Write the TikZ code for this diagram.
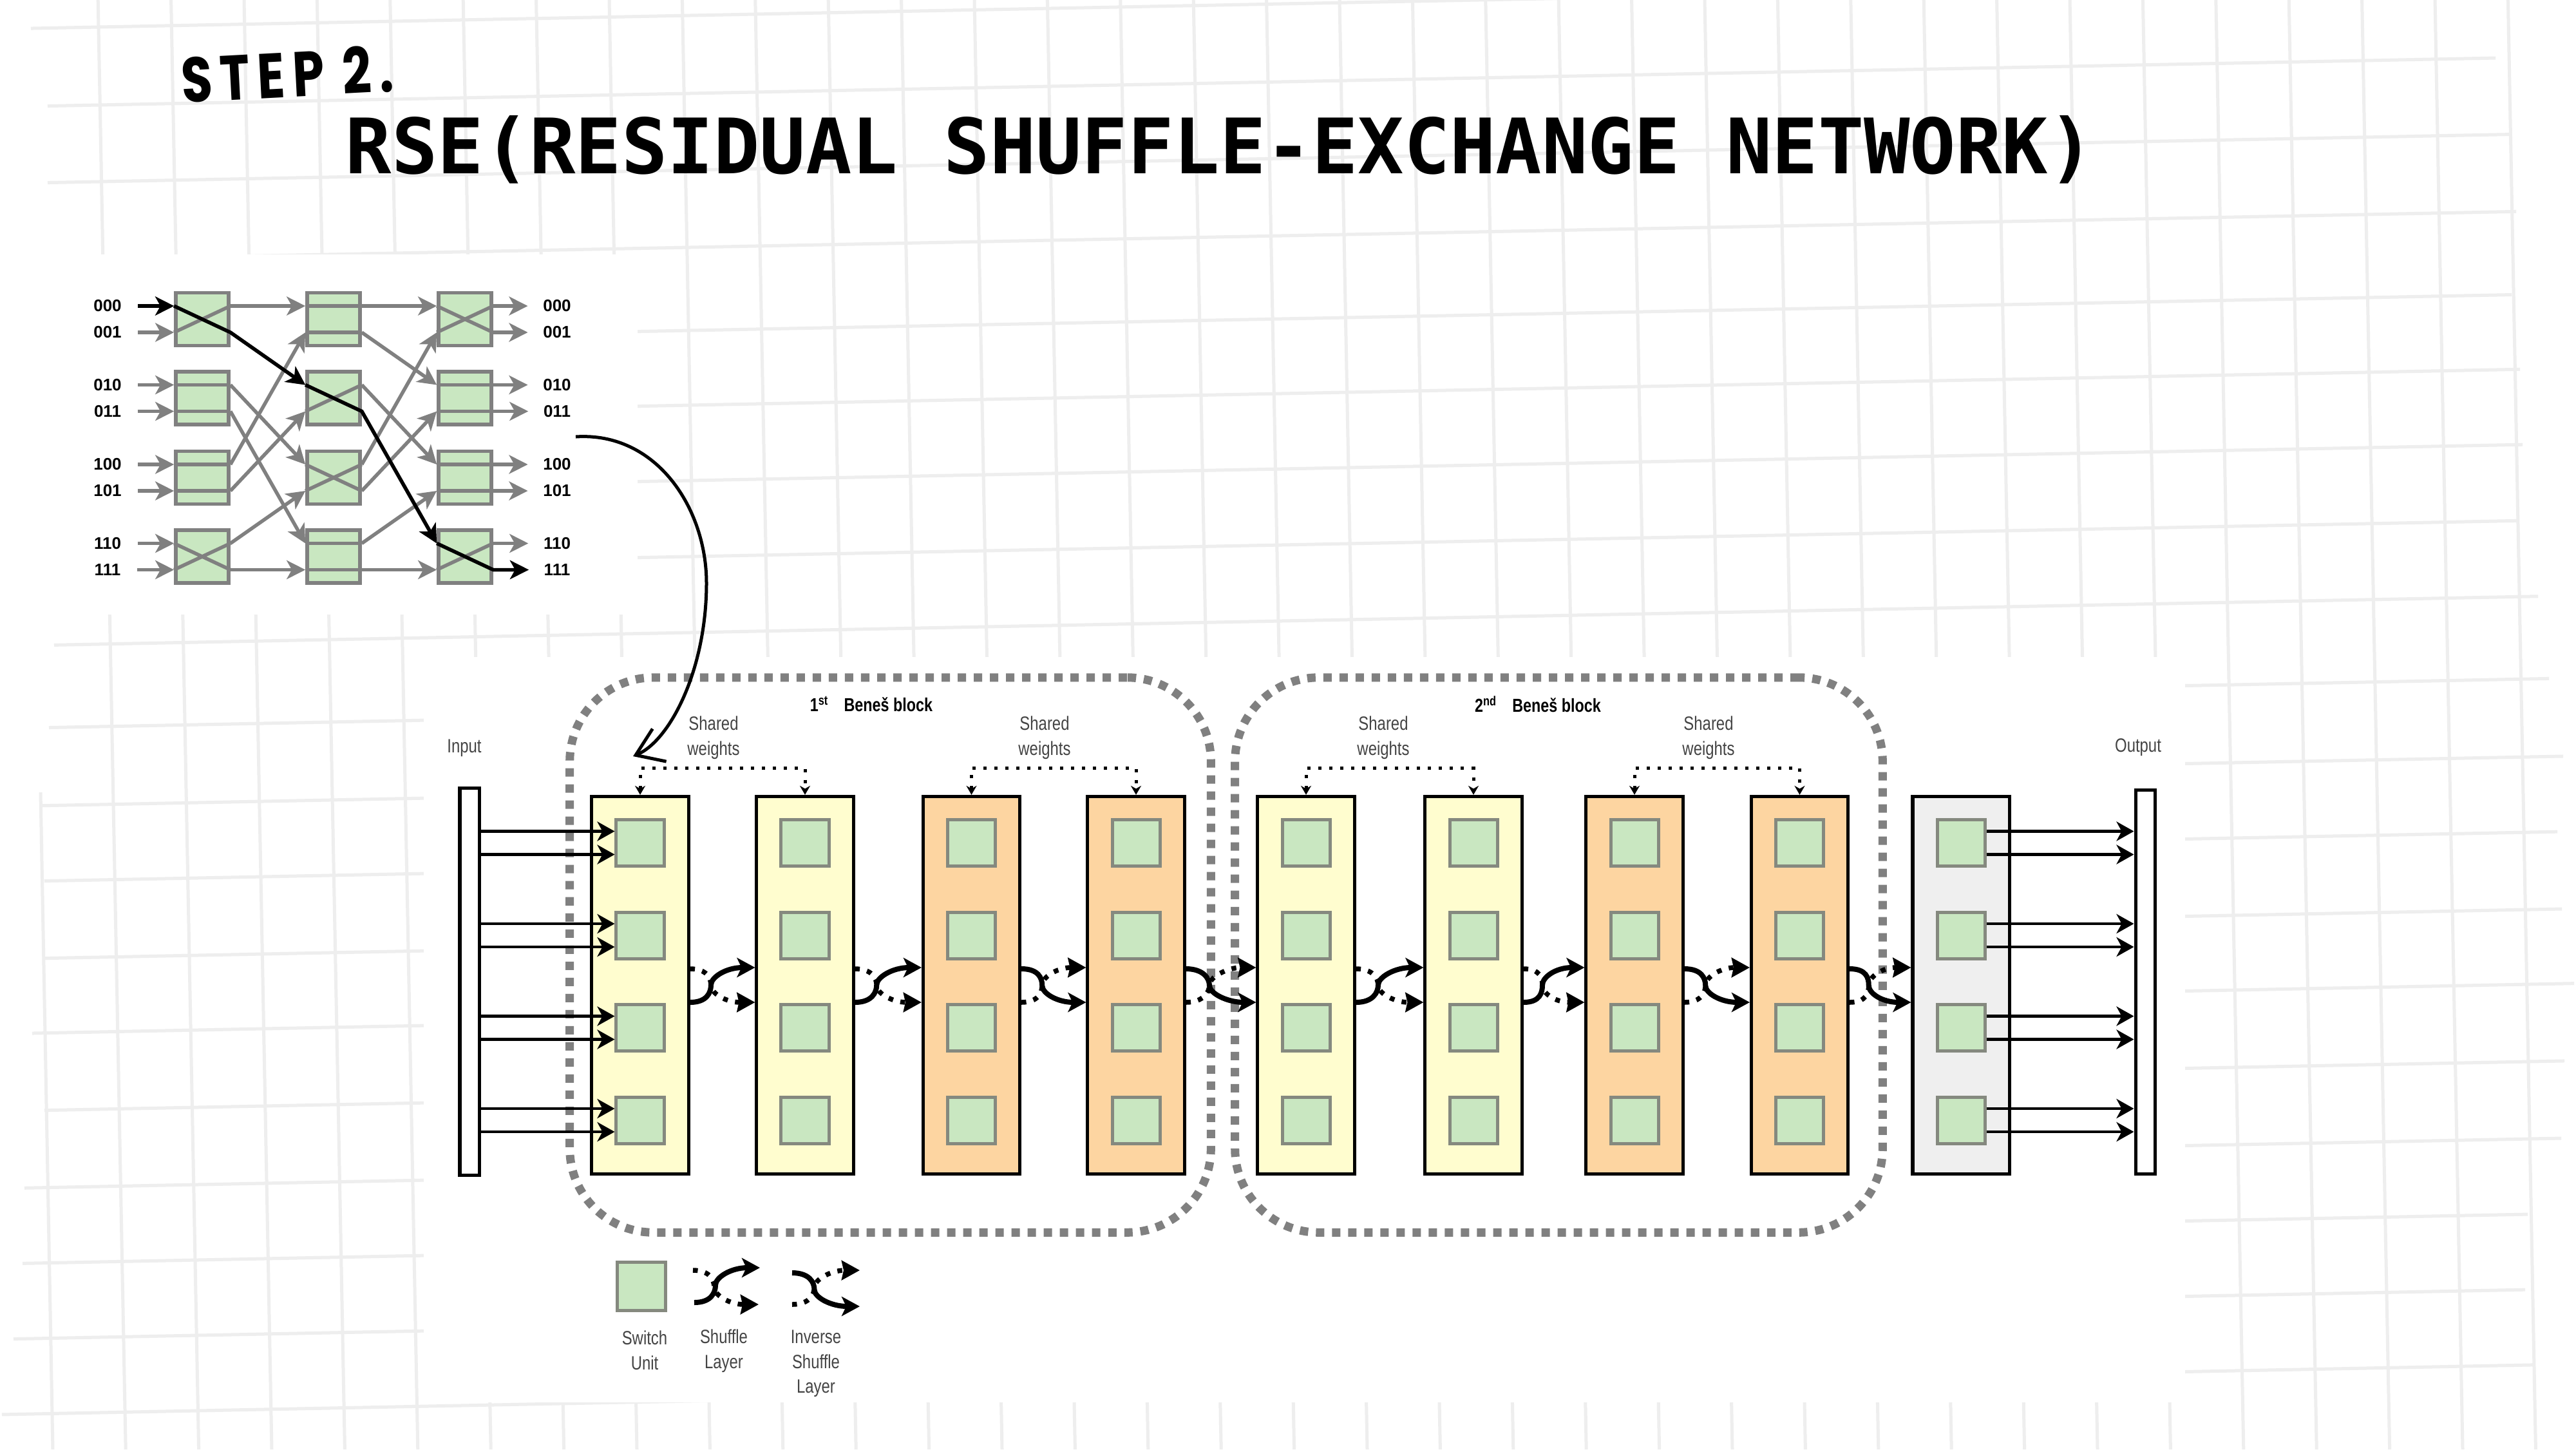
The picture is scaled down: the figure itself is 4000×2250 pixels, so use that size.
\documentclass[tikz,border=0pt]{standalone}
\usepackage{fontspec}
\usepackage{tikz}
\usetikzlibrary{arrows.meta,calc}
\setmainfont{Liberation Sans}
\newfontfamily\narrowfont[FakeStretch=0.8]{Liberation Sans}
\newfontfamily\handfont[FakeStretch=0.8,LetterSpace=12]{Poppins}
\newfontfamily\codefont{DejaVu Sans Mono}
\definecolor{unit-green}{HTML}{C9E7C1}
\definecolor{layer-yellow}{HTML}{FFFDCF}
\definecolor{layer-orange}{HTML}{FDD5A1}
\definecolor{layer-gray}{HTML}{EFEFEF}
\definecolor{wire-gray}{HTML}{808080}
\definecolor{unit-edge}{HTML}{85897F}
\definecolor{paper-gray}{HTML}{EEEEEE}
\definecolor{label-gray}{HTML}{444444}
\tikzset{
    paper-line/.style = {draw=paper-gray, line width=.05cm},
    switch-box/.style = {draw=wire-gray, fill=unit-green, line width=.055cm, minimum width=.82cm, minimum height=.82cm, inner sep=0pt},
    wire/.style = {draw=wire-gray, line width=.055cm},
    wire-arrow/.style = {wire, -{Stealth[length=.29cm,width=.29cm,inset=.08cm]}},
    path-wire/.style = {draw=black, line width=.055cm},
    path-arrow/.style = {path-wire, -{Stealth[length=.29cm,width=.29cm,inset=.08cm]}},
    bit-label/.style = {font=\fontsize{7.4}{9}\selectfont\bfseries, inner sep=0pt},
    layer-box/.style = {draw=black, line width=.05cm, minimum width=1.5cm, minimum height=5.86cm, inner sep=0pt},
    bar-box/.style = {draw=black, fill=white, line width=.05cm, minimum width=.3cm, minimum height=6cm, inner sep=0pt},
    unit-box/.style = {draw=unit-edge, fill=unit-green, line width=.05cm, minimum width=.74cm, minimum height=.72cm, inner sep=0pt},
    benes-frame/.style = {draw=wire-gray, line width=.13cm, rounded corners=1.3cm, dash pattern=on .13cm off .12cm, inner sep=0pt},
    flow-arrow/.style = {draw=black, line width=.045cm, -{Stealth[length=.27cm,width=.3cm,inset=.08cm]}},
    shared-link/.style = {draw=black, line width=.05cm, dash pattern=on .05cm off .12cm, {Stealth[length=.14cm,width=.16cm]}-{Stealth[length=.14cm,width=.16cm]}},
    solid-link/.style = {draw=black, line width=.08cm, -{Stealth[length=.28cm,width=.3cm,inset=.07cm]}},
    dotted-link/.style = {draw=black, line width=.075cm, dash pattern=on .075cm off .115cm, -{Stealth[length=.28cm,width=.3cm,inset=.03cm]}},
    caption-text/.style = {font=\fontsize{8.5}{11}\selectfont\narrowfont, text=label-gray, align=center, inner sep=0pt},
    block-title/.style = {font=\fontsize{8.3}{10}\selectfont\narrowfont\bfseries, inner sep=0pt},
}
% S-shaped link: style, from, to, 1 when it climbs and -1 when it falls
\newcommand{\curvelink}[4]{
    \coordinate (link-mid) at ([xshift=-.18cm]$(#2)!.5!(#3)$);
    \draw[#1] (#2) .. controls +(26,0) and +(0,#4*12) .. (link-mid) .. controls +(0,#4*-12) and +(-45,0) .. (#3);
}
\newcommand{\shufflelayer}[2]{
    \curvelink{dotted-link}{#1-rt}{#2-lb}{-1}
    \curvelink{solid-link}{#1-rb}{#2-lt}{1}
}
\newcommand{\inverselayer}[2]{
    \curvelink{dotted-link}{#1-rb}{#2-lt}{1}
    \curvelink{solid-link}{#1-rt}{#2-lb}{-1}
}

\begin{document}
\begin{tikzpicture}[x=.01cm,y=-.01cm]
\useasboundingbox (0,0) rectangle (4000,2250);
\fill[white] (0,0) rectangle (4000,2250);

% paper grid
\begin{scope}
\clip (0,0) rectangle (4000,2250);
\foreach \yy/\xa/\xb in {45/48/2450,166/74/3875,285/74/3900,405/84/3907,534/84/3900,650/84/3913,767/84/3917,885/84/3911,1003/84/3941,1131/76/3958,1252/64/3980,1369/69/3971,1489/67/3978,1605/50/3997,1725/69/3982,1845/38/3977,1962/35/3925,2079/21/3921,2196/3/3936}
    \draw[paper-line] (\xa,{\yy-0.0196*\xa}) -- (\xb,{\yy-0.0196*\xb});
\foreach \k in {-17,...,16}
    \draw[paper-line] ({2080+113.4*\k},0) -- ({2123+113.4*\k},2250);
\draw[paper-line] (63,1230) -- (82,2250);
\end{scope}
\fill[white] (0,395) rectangle (990,954);
\fill[white] (658,1020) rectangle (3393,2177);

% titles
\node[font=\fontsize{28}{30}\selectfont\handfont\bfseries, rotate=3, inner sep=0pt] (step-title) at (446,115) {STEP 2.};
\node[font=\fontsize{33.75}{36}\selectfont\codefont\bfseries, anchor=base west, inner sep=0pt] (rse-title) at (536,269) {RSE(RESIDUAL SHUFFLE-EXCHANGE NETWORK)};

% butterfly switches
\foreach \c/\x in {1/314,2/518,3/722}
    \foreach \r/\y in {1/495.5,2/618,3/741.5,4/864} {
        \node[switch-box] (sw\c\r) at (\x,\y) {};
        \coordinate (sw\c\r a-in) at ($(sw\c\r.west)+(0,-20.5)$);
        \coordinate (sw\c\r b-in) at ($(sw\c\r.west)+(0,20.5)$);
        \coordinate (sw\c\r a-out) at ($(sw\c\r.east)+(0,-20.5)$);
        \coordinate (sw\c\r b-out) at ($(sw\c\r.east)+(0,20.5)$);
    }
% inside the switches
\foreach \s in {11,14,22,23,31,34} {
    \draw[wire] (sw\s a-in) -- (sw\s b-out);
    \draw[wire] (sw\s b-in) -- (sw\s a-out);
}
\foreach \s in {12,13,21,24,32,33} {
    \draw[wire] (sw\s a-in) -- (sw\s a-out);
    \draw[wire] (sw\s b-in) -- (sw\s b-out);
}
% between the columns
\foreach \c/\d in {1/2,2/3}
    \foreach \f/\t in {1a/1a,1b/2a,2a/3a,2b/4a,3a/1b,3b/2b,4a/3b,4b/4b}
        \draw[wire-arrow] (sw\c\f-out) -- (sw\d\t-in);
% labels on both sides
\foreach \r/\p/\n in {1/a/000,1/b/001,2/a/010,2/b/011,3/a/100,3/b/101,4/a/110,4/b/111} {
    \node[bit-label] (in\n) at (sw1\r\p-in -| 167,0) {\n};
    \node[bit-label] (out\n) at (sw3\r\p-out -| 865,0) {\n};
    \draw[wire-arrow, shorten <=.25cm] (in\n) -- (sw1\r\p-in);
    \draw[wire-arrow, shorten >=.23cm] (sw3\r\p-out) -- (out\n);
}
% the marked route
\draw[path-arrow, shorten <=.25cm] (in000) -- (sw11a-in);
\draw[path-arrow] (sw11a-in) -- (sw11b-out) -- (sw22a-in);
\draw[path-arrow] (sw22a-in) -- (sw22b-out) -- (sw34a-in);
\draw[path-arrow, shorten >=.23cm] (sw34a-in) -- (sw34b-out) -- (out111);

% Benes blocks
\node[benes-frame, minimum width=9.95cm, minimum height=8.61cm] (block1) at (1382.5,1482.5) {};
\node[benes-frame, minimum width=10.05cm, minimum height=8.61cm] (block2) at (2420.5,1482.5) {};
\node[block-title] (block1-title) at (1353,1093) {1\textsuperscript{st}\hspace{.8em}Beneš block};
\node[block-title] (block2-title) at (2388,1093) {2\textsuperscript{nd}\hspace{.8em}Beneš block};

\node[bar-box] (input-bar) at (729,1524) {};
\node[bar-box, minimum height=5.95cm] (output-bar) at (3331,1524.5) {};
\node[caption-text] (input-label) at (721,1161) {Input};
\node[caption-text] (output-label) at (3320,1160) {Output};

% layers
\foreach \i/\x/\colr in {1/994/layer-yellow,2/1250/layer-yellow,3/1508.5/layer-orange,4/1764/layer-orange,5/2028/layer-yellow,6/2288/layer-yellow,7/2538/layer-orange,8/2794.5/layer-orange,9/3045/layer-gray} {
    \node[layer-box, fill=\colr] (col\i) at (\x,1529.5) {};
    \coordinate (col\i-lt) at (col\i.west |- 0,1502);
    \coordinate (col\i-lb) at (col\i.west |- 0,1556);
    \coordinate (col\i-rt) at (col\i.east |- 0,1504);
    \coordinate (col\i-rb) at (col\i.east |- 0,1556);
    \foreach \r/\y in {1/1308.5,2/1452,3/1595.5,4/1739}
        \node[unit-box] (unit\i\r) at (\x,\y) {};
}

% input and output arrows
\foreach \r in {1,2,3,4}
    \foreach \s in {-18,18} {
        \coordinate (port) at ($(unit1\r.west)+(0,\s)$);
        \draw[flow-arrow] (input-bar.east |- port) -- (port);
        \coordinate (port) at ($(unit9\r.east)+(0,\s)$);
        \draw[flow-arrow] (port) -- (output-bar.west |- port);
    }

% shuffle layers
\shufflelayer{col1}{col2}
\shufflelayer{col2}{col3}
\inverselayer{col3}{col4}
\inverselayer{col4}{col5}
\shufflelayer{col5}{col6}
\shufflelayer{col6}{col7}
\inverselayer{col7}{col8}
\inverselayer{col8}{col9}

% shared weights
\foreach \a/\b/\x in {1/2/1108,3/4/1622,5/6/2148,7/8/2653} {
    \draw[shared-link] (col\a.north) -- ++(0,-41) -| (col\b.north);
    \node[caption-text] (shared\a) at (\x,1145) {Shared\\weights};
}

% legend
\node[unit-box, minimum width=.75cm, minimum height=.75cm] (key-unit) at (996,1997) {};
\coordinate (key1-rt) at (1076,1972);
\coordinate (key1-rb) at (1078,2022);
\coordinate (key2-lt) at (1180,1968);
\coordinate (key2-lb) at (1178,2025);
\shufflelayer{key1}{key2}
\coordinate (key3-rt) at (1230,1976);
\coordinate (key3-rb) at (1230,2025);
\coordinate (key4-lt) at (1335,1972);
\coordinate (key4-lb) at (1335,2028);
\inverselayer{key3}{key4}
\node[caption-text] (key-unit-label) at (1001,2096) {Switch\\Unit};
\node[caption-text] (key-shuffle-label) at (1124,2097) {Shuffle\\Layer};
\node[caption-text] (key-inverse-label) at (1267,2117) {Inverse\\Shuffle\\Layer};

% hand drawn pointer
\coordinate (pointer-start) at (894,678);
\coordinate (pointer-end) at (983,1174);
\draw[line width=.05cm, -{Straight Barb[length=.4cm,width=.55cm]}] (pointer-start) .. controls (1020,670) and (1097,790) .. (1097,905) .. controls (1097,1040) and (1040,1150) .. (pointer-end);
\end{tikzpicture}
\end{document}
